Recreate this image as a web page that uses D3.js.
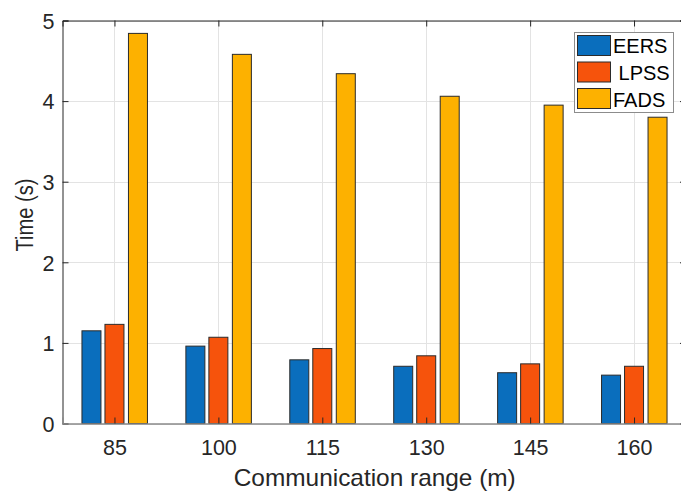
<!DOCTYPE html>
<html>
<head>
<meta charset="utf-8">
<script src="https://cdn.jsdelivr.net/npm/d3@7"></script>
<style>
  html, body { margin: 0; padding: 0; background: #fff; }
  svg { display: block; font-family: "Liberation Sans", Arial, Helvetica, sans-serif; }
</style>
</head>
<body>
<svg id="chart" width="681" height="493"></svg>
<script>
const categories = [85, 100, 115, 130, 145, 160];
const seriesNames = ["EERS", " LPSS", "FADS"];
const eers = [1.15, 0.96, 0.79, 0.71, 0.63, 0.60];
const lpss = [1.23, 1.07, 0.93, 0.84, 0.74, 0.71];
const fads = [4.84, 4.58, 4.34, 4.06, 3.95, 3.80];
const yTicks = [0, 1, 2, 3, 4, 5];
const xLabel = "Communication range (m)";
const yLabel = "Time (s)";

(function () {
const series = [eers, lpss, fads];
const colors = ["#0a6ebd", "#f6530c", "#fdb100"];
const offsets = [-23, 0, 23.5];
const barW = 19;

const svg = d3.select("#chart");
const pLeft = 62.5, pRight = 686, pTop = 20.5, pBottom = 423.5;

const x = d3.scaleLinear().domain([77.5, 167.5]).range([pLeft, pRight]);
const y = d3.scaleLinear().domain([0, 5]).range([pBottom, pTop]);

// grid
const grid = svg.append("g");
grid.selectAll("line.gy").data(yTicks).enter().append("line")
  .attr("x1", pLeft).attr("x2", pRight)
  .attr("y1", d => Math.round(y(d)) + 0.5).attr("y2", d => Math.round(y(d)) + 0.5)
  .attr("stroke", "#e3e3e3").attr("stroke-width", 1);
grid.selectAll("line.gx").data(categories).enter().append("line")
  .attr("y1", pTop).attr("y2", pBottom)
  .attr("x1", d => Math.round(x(d)) + 0.5).attr("x2", d => Math.round(x(d)) + 0.5)
  .attr("stroke", "#e3e3e3").attr("stroke-width", 1);

// bars
series.forEach((vals, si) => {
  svg.append("g").selectAll("rect").data(vals).enter().append("rect")
    .attr("x", (d, i) => x(categories[i]) + offsets[si] - barW / 2)
    .attr("width", barW)
    .attr("y", d => y(d))
    .attr("height", d => y(0) - y(d))
    .attr("fill", colors[si])
    .attr("stroke", "#2b2b2b").attr("stroke-width", 1);
});

// axes
const tickLen = 6;
const yAxisL = d3.axisLeft(y).tickValues(yTicks).tickSize(-tickLen).tickPadding(12).tickFormat(d3.format("d"));
const gyL = svg.append("g").attr("transform", `translate(${pLeft},0)`).call(yAxisL);
const yAxisR = d3.axisRight(y).tickValues(yTicks).tickSize(-tickLen).tickFormat("");
const gyR = svg.append("g").attr("transform", `translate(${pRight},0)`).call(yAxisR);
const xAxisB = d3.axisBottom(x).tickValues(categories).tickSize(-tickLen).tickPadding(18).tickFormat(d3.format("d"));
const gxB = svg.append("g").attr("transform", `translate(0,${pBottom})`).call(xAxisB);
const xAxisT = d3.axisTop(x).tickValues(categories).tickSize(-tickLen).tickFormat("");
const gxT = svg.append("g").attr("transform", `translate(0,${pTop})`).call(xAxisT);

[gyL, gyR, gxB, gxT].forEach(g => {
  g.select(".domain").attr("stroke", "#262626").attr("stroke-width", 1);
  g.selectAll(".tick line").attr("stroke", "#262626").attr("stroke-width", 1);
  g.selectAll("text").attr("fill", "#262626").attr("font-size", 21.5)
    .attr("font-family", '"Liberation Sans", Arial, sans-serif');
});
gxB.select(".domain").attr("stroke", "#8a8a8a").attr("stroke-width", 1.5);
gxB.selectAll(".tick text").attr("dy", null).attr("y", 31);
gyL.selectAll(".tick text").attr("x", -8).attr("dy", "0.36em");

// labels
svg.append("text")
  .attr("x", (pLeft + pRight) / 2 + 0.5).attr("y", 486)
  .attr("text-anchor", "middle").attr("font-size", 24).attr("fill", "#262626")
  .attr("textLength", 282).attr("lengthAdjust", "spacingAndGlyphs")
  .text(xLabel);
svg.append("text")
  .attr("transform", "translate(33,215) rotate(-90)")
  .attr("text-anchor", "middle").attr("font-size", 23).attr("fill", "#262626")
  .attr("textLength", 73).attr("lengthAdjust", "spacingAndGlyphs")
  .text(yLabel);

// legend
const lg = svg.append("g");
lg.append("rect").attr("x", 574.5).attr("y", 32.5).attr("width", 99).attr("height", 80)
  .attr("fill", "#fff").attr("stroke", "#8c8c8c").attr("stroke-width", 1);
seriesNames.forEach((name, i) => {
  lg.append("rect").attr("x", 577.5).attr("y", 35.5 + i * 26.5).attr("width", 33).attr("height", 20)
    .attr("fill", colors[i]).attr("stroke", "#2b2b2b").attr("stroke-width", 1);
  lg.append("text").attr("x", 613).attr("y", 53 + i * 27)
    .attr("font-size", 20).attr("fill", "#000").style("white-space", "pre")
    .text(name);
});
})();
</script>
</body>
</html>
